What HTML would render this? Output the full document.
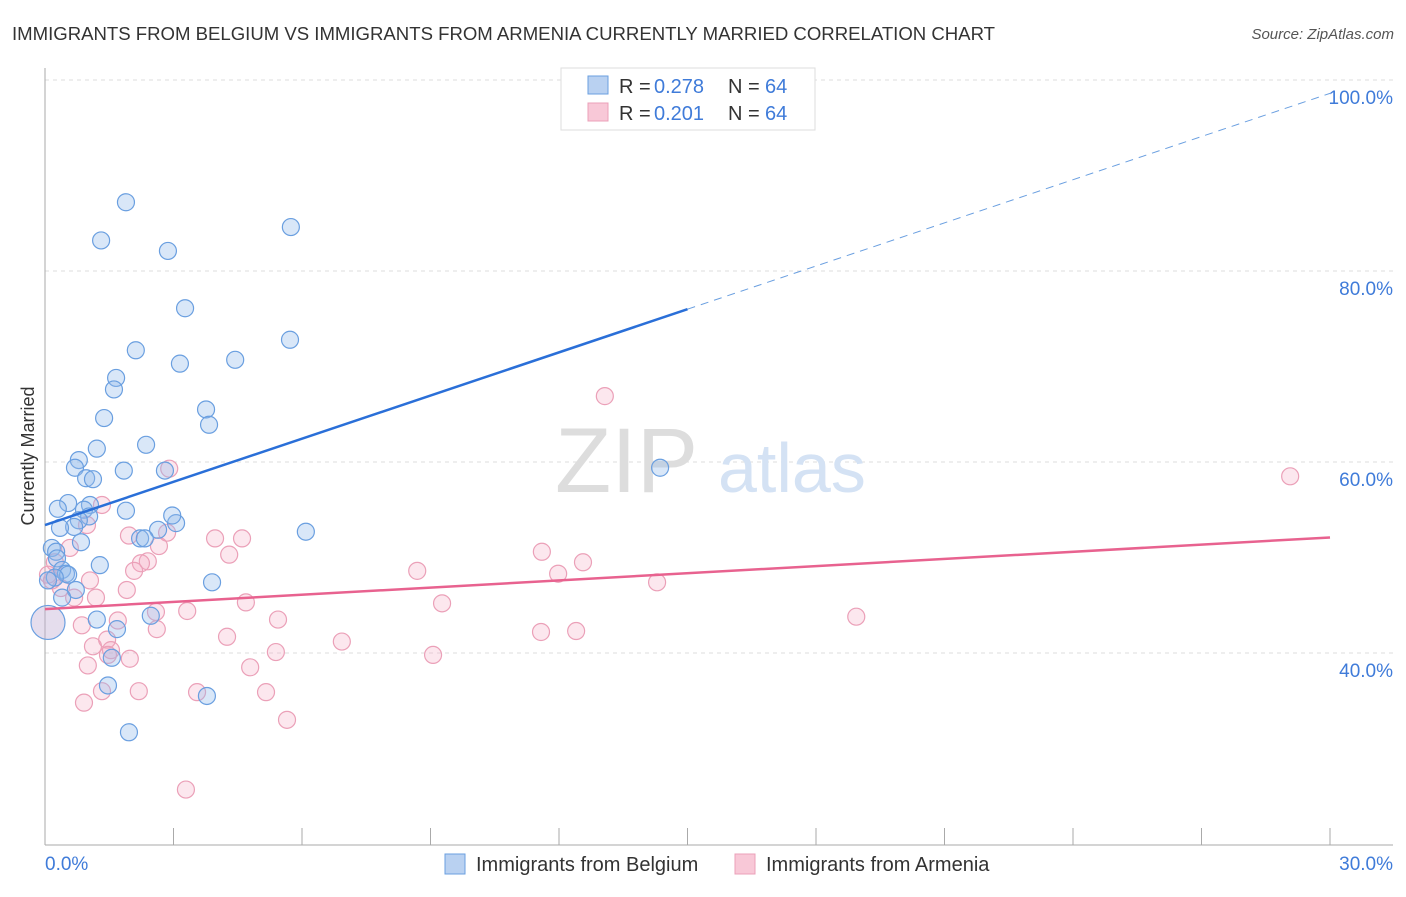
<!DOCTYPE html>
<html><head><meta charset="utf-8"><style>
body{margin:0;background:#fff;font-family:"Liberation Sans",sans-serif;}
svg text{font-family:"Liberation Sans",sans-serif;}
</style></head><body>
<svg id="chart" width="1406" height="892">
<text x="12" y="40" font-size="18.6" fill="#333" textLength="983">IMMIGRANTS FROM BELGIUM VS IMMIGRANTS FROM ARMENIA CURRENTLY MARRIED CORRELATION CHART</text>
<text x="1394" y="39" font-size="15" fill="#555" text-anchor="end" font-style="italic">Source: ZipAtlas.com</text>
<g id="grid"></g>
<text x="555" y="492" font-size="92" fill="#ddd" font-family="Liberation Serif">ZIP</text>
<text x="718" y="492" font-size="70" fill="#d4e2f4">atlas</text>
<g id="pts"></g>
<g id="trend"></g>
<text transform="translate(34,456) rotate(-90)" font-size="18" fill="#333" text-anchor="middle">Currently Married</text>
<g>
<rect x="561" y="68" width="254" height="62" fill="#fff" stroke="#ddd"/>
<rect x="588" y="76" width="20" height="18" fill="#b9d1f1" stroke="#6a9fe0"/>
<text x="619" y="93" font-size="20" fill="#333">R =</text>
<text x="654" y="93" font-size="20" fill="#3f7bd9">0.278</text>
<text x="728" y="93" font-size="20" fill="#333">N =</text>
<text x="765" y="93" font-size="20" fill="#3f7bd9">64</text>
<rect x="588" y="103" width="20" height="18" fill="#f8c8d7" stroke="#eba0b8"/>
<text x="619" y="120" font-size="20" fill="#333">R =</text>
<text x="654" y="120" font-size="20" fill="#3f7bd9">0.201</text>
<text x="728" y="120" font-size="20" fill="#333">N =</text>
<text x="765" y="120" font-size="20" fill="#3f7bd9">64</text>
</g>
<g>
<rect x="445" y="854" width="20" height="20" fill="#b9d1f1" stroke="#6a9fe0"/>
<text x="476" y="871" font-size="20" fill="#333">Immigrants from Belgium</text>
<rect x="735" y="854" width="20" height="20" fill="#f8c8d7" stroke="#eba0b8"/>
<text x="766" y="871" font-size="20" fill="#333">Immigrants from Armenia</text>
</g>
</svg>
<script>
const yTicks=[40,60,80,100];
const yTickLabels=["40.0%","60.0%","80.0%","100.0%"];
const xTickCount=10;
const xLabels=["0.0%","30.0%"];
const belgiumX=[1.89,1.31,2.87,5.74,3.27,2.12,3.15,4.44,5.72,1.66,1.61,3.76,1.38,3.83,1.21,2.36,0.79,0.70,1.84,2.80,0.96,1.12,14.36,0.54,1.05,0.30,0.91,1.89,1.03,0.79,3.06,0.68,0.35,2.97,2.64,6.09,0.84,2.22,2.33,0.16,0.26,0.28,1.28,0.40,0.49,0.54,0.23,3.90,0.72,0.07,0.40,2.47,1.21,1.68,1.56,1.47,3.78,1.96];
const belgiumY=[87.2,83.2,82.1,84.6,76.1,71.7,70.3,70.7,72.8,68.8,67.6,65.5,64.6,63.9,61.4,61.8,60.2,59.4,59.1,59.1,58.3,58.2,59.4,55.7,55.5,55.1,55.0,54.9,54.3,53.9,53.6,53.2,53.1,54.4,52.9,52.7,51.6,52.0,52.0,51.0,50.6,49.9,49.2,48.7,48.3,48.2,47.9,47.4,46.6,47.6,45.8,43.9,43.5,42.5,39.5,36.6,35.5,31.7];
const armeniaX=[13.07,29.07,2.90,1.33,0.98,1.96,2.85,3.97,4.60,2.66,0.58,4.30,2.40,2.24,2.08,11.60,12.56,0.23,8.69,11.98,14.29,1.05,1.91,0.37,0.68,1.19,4.69,3.32,2.59,9.27,5.44,18.94,1.70,0.86,2.61,11.58,12.40,4.25,6.93,1.12,1.45,1.54,1.47,5.39,9.06,1.98,1.00,4.79,1.33,2.19,3.55,5.16,0.91,5.65,3.29,0.07,0.16];
const armeniaY=[66.9,58.5,59.3,55.5,53.4,52.3,52.6,52.0,52.0,51.2,51.0,50.3,49.6,49.4,48.6,50.6,49.5,49.5,48.6,48.3,47.4,47.6,46.6,46.8,45.8,45.8,45.3,44.4,44.3,45.2,43.5,43.8,43.4,42.9,42.5,42.2,42.3,41.7,41.2,40.7,41.4,40.3,39.8,40.1,39.8,39.4,38.7,38.5,36.0,36.0,35.9,35.9,34.8,33.0,25.7,48.2,47.6];
const bigX=[0.07], bigY=[43.2];
const belgiumTrend=[53.4,76.0,98.6];
const armeniaTrend=[44.6,52.1];
const NS="http://www.w3.org/2000/svg";
const X=v=>45+v*(1285/30);
const Y=v=>80+(100-v)*9.55;
function mk(tag,attrs,parent){const e=document.createElementNS(NS,tag);for(const k in attrs)e.setAttribute(k,attrs[k]);parent.appendChild(e);return e;}
const grid=document.getElementById('grid');
yTicks.forEach((t,i)=>{
  const l=mk('line',{x1:45,x2:1393,y1:Y(t),y2:Y(t),stroke:'#ddd','stroke-dasharray':'4,4'},grid);
  
  
  const tx=mk('text',{x:1393,y:Y(t)+24,'font-size':19,fill:'#3f7bd9','text-anchor':'end'},grid);
  tx.textContent=yTickLabels[i];
  
  
});
const ax=mk('line',{x1:45,x2:45,y1:68,y2:845,stroke:'#aaa'},grid);


const bx=mk('line',{x1:45,x2:1393,y1:845,y2:845,stroke:'#aaa'},grid);


for(let i=0;i<=xTickCount;i++){
  const t=mk('line',{x1:X(i*3),x2:X(i*3),y1:828,y2:845,stroke:'#aaa'},grid);
  
  
}
const xl0=mk('text',{x:45,y:870,'font-size':19,fill:'#3f7bd9'},grid);xl0.textContent=xLabels[0];


const xl1=mk('text',{x:1393,y:870,'font-size':19,fill:'#3f7bd9','text-anchor':'end'},grid);xl1.textContent=xLabels[1];


const pts=document.getElementById('pts');
armeniaX.forEach((v,i)=>{
  const c=mk('circle',{cx:X(v),cy:Y(armeniaY[i]),r:8.5,fill:'rgba(244,170,195,0.28)',stroke:'#eba0b8','stroke-width':1.2},pts);
  
  
});
belgiumX.forEach((v,i)=>{
  const c=mk('circle',{cx:X(v),cy:Y(belgiumY[i]),r:8.5,fill:'rgba(147,186,234,0.35)',stroke:'#6a9fe0','stroke-width':1.2},pts);
  
  
});
bigX.forEach((v,i)=>{
  const c=mk('circle',{cx:X(v),cy:Y(bigY[i]),r:17,fill:'rgba(190,170,210,0.4)',stroke:'#6a9fe0','stroke-width':1.2},pts);
  
  
});
const tr=document.getElementById('trend');
const b1=mk('line',{x1:X(0),y1:Y(belgiumTrend[0]),x2:X(15),y2:Y(belgiumTrend[1]),stroke:'#2a6fd8','stroke-width':2.5},tr);


const b2=mk('line',{x1:X(15),y1:Y(belgiumTrend[1]),x2:X(30),y2:Y(belgiumTrend[2]),stroke:'#6a9fe0','stroke-width':1,'stroke-dasharray':'8,6'},tr);


const a1=mk('line',{x1:X(0),y1:Y(armeniaTrend[0]),x2:X(30),y2:Y(armeniaTrend[1]),stroke:'#e8628f','stroke-width':2.5},tr);


</script>
</body></html>
